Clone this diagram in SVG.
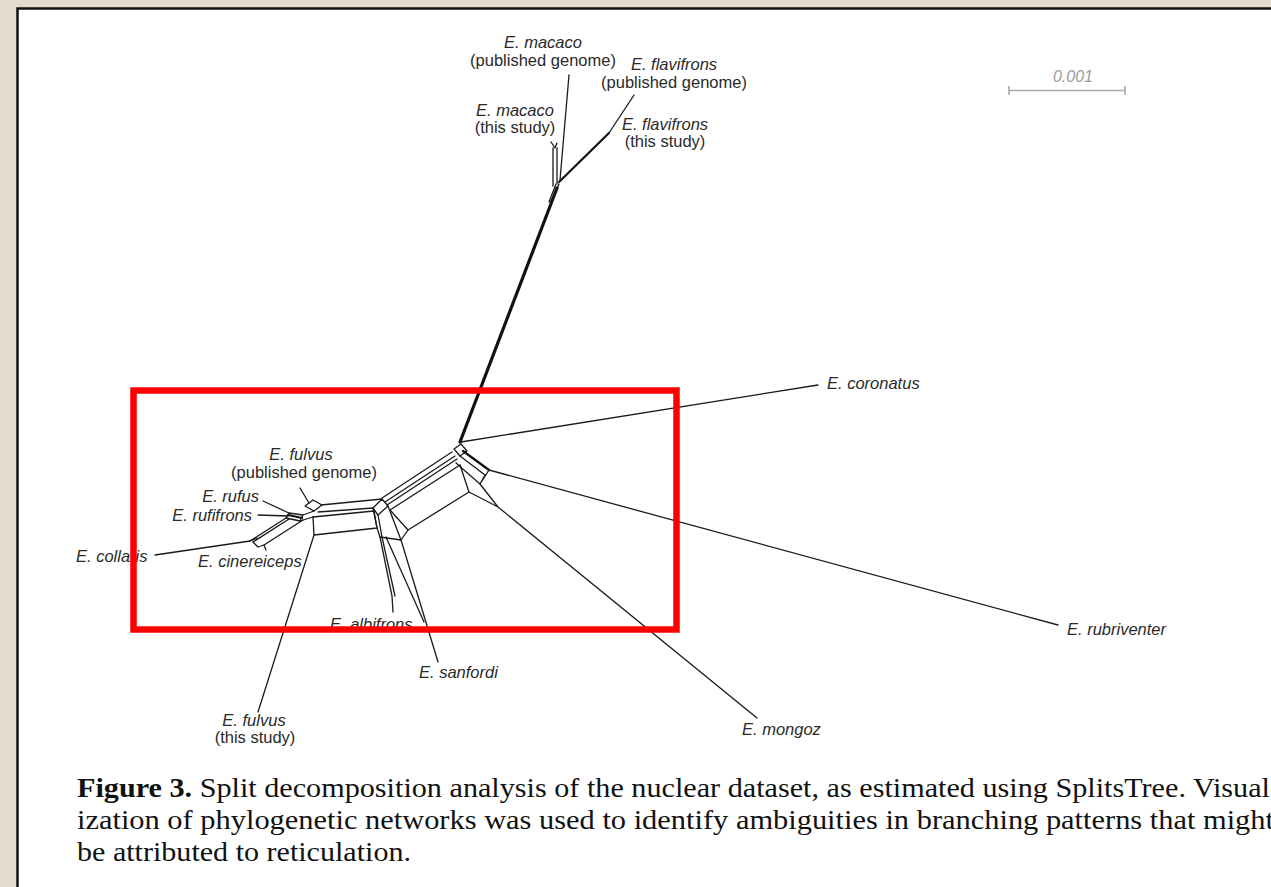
<svg xmlns="http://www.w3.org/2000/svg" width="1271" height="887" viewBox="0 0 1271 887">
<defs>
<style>
.bg{fill:#e5dccd}
.panel{fill:#ffffff;stroke:#111;stroke-width:2.5}
.e{fill:none;stroke:#1a1a1a;stroke-width:1.3;stroke-linejoin:round;stroke-linecap:round}
.thick{fill:none;stroke:#111;stroke-width:3.2;stroke-linecap:round}
.mid{fill:none;stroke:#111;stroke-width:2.2;stroke-linecap:round}
.lbl{font-family:"Liberation Sans",Arial,sans-serif;font-size:16.5px;fill:#2a2a2a}
.it{font-style:italic}
.scale{fill:none;stroke:#a8a8a8;stroke-width:1.6}
.scaletxt{font-family:"Liberation Sans",Arial,sans-serif;font-size:16px;font-style:italic;fill:#9a9a9a}
.cap{font-family:"Liberation Serif","Times New Roman",serif;font-size:27px;fill:#111}
.hl{fill:none;stroke:#ff0000;stroke-width:6.5}
</style>
</defs>
<rect class="bg" x="0" y="0" width="1271" height="887"/>
<rect class="panel" x="17.5" y="8.5" width="1280" height="900"/>

<g id="connectors">
  <!-- stem to macaco/flavifrons -->
  <path class="thick" d="M557,188 L460,442"/>
  <path class="e" d="M556,184 L549,202 M559,184 L552,202"/>
  <path class="e" d="M560,180 L569,75"/>
  <path class="e" d="M553,186 L553,148 M557,184 L557,148 M551,142 L555,148 L557,143"/>
  <path class="mid" d="M559,182 L609,133"/>
  <path class="e" d="M609,133 L634,95"/>
  <!-- coronatus -->
  <path class="e" d="M461,442 L818,385"/>
  <!-- hub box -->
  <path class="e" d="M454,449 L461,444 L467,451 L460,456 Z"/>
  <!-- rubriventer parallelogram -->
  <path class="mid" d="M463,451 L489,470"/>
  <path class="e" d="M460,456 L485,475 M489,470 L480,484 L456,463 M485,475 L480,484"/>
  <path class="e" d="M489,470 L1058,625"/>
  <!-- mongoz -->
  <path class="e" d="M480,484 L498,507 M469,492 L498,507 L757,718"/>
  <!-- upper band hub -> left junction -->
  <path class="e" d="M452,452 L382,498"/>
  <path class="e" d="M455,456 L385,502"/>
  <path class="e" d="M457,459 L387,505"/>
  <path class="e" d="M460,465 L390,510"/>
  <!-- lower parallelogram -->
  <path class="e" d="M460,465 L469,492 L408,530 L390,510"/>
  <!-- left junction box -->
  <path class="e" d="M373,508 L382,499 L388,506 L378,515 Z"/>
  <!-- albifrons / sanfordi column -->
  <path class="e" d="M373,508 L377,528 L380,537 L392,596 L393,612"/>
  <path class="e" d="M378,515 L382,537 L395,596"/>
  <path class="e" d="M388,506 L401,540 L408,530"/>
  <path class="e" d="M380,537 L401,540"/>
  <path class="e" d="M401,540 L438,662"/>
  <path class="e" d="M386,537 L424,622"/>
  <!-- horizontal band to fulvus published -->
  <path class="e" d="M321,505 L382,499"/>
  <path class="e" d="M318,512 L373,508"/>
  <path class="e" d="M313,517 L374,511"/>
  <path class="e" d="M313,517 L314,535 L377,528 L374,511"/>
  <!-- fulvus published box -->
  <path class="e" d="M305,506 L313,500 L322,505 L314,511 Z"/>
  <path class="e" d="M300,488 L309,503"/>
  <!-- rufus / rufifrons -->
  <path class="e" d="M289,513 L303,515 L300,521 L286,518 Z"/>
  <path class="mid" d="M288,515 L302,518"/>
  <path class="e" d="M303,515 L314,511 M300,521 L313,517"/>
  <path class="e" d="M263,501 L291,514"/>
  <path class="e" d="M258,515 L288,516"/>
  <!-- collaris band -->
  <path class="e" d="M286,518 L250,541"/>
  <path class="e" d="M289,519 L253,542"/>
  <path class="e" d="M303,520 L264,545"/>
  <path class="e" d="M250,541 L257,538 M253,542 L258,547 L264,545 M264,545 L266,550"/>
  <path class="e" d="M250,541 L155,555"/>
  <!-- fulvus this study -->
  <path class="e" d="M314,535 L258,712"/>
</g>

<g id="n-macaco-pub"><text class="lbl" text-anchor="middle"><tspan class="it" x="543" y="48">E. macaco</tspan><tspan x="543" y="66">(published genome)</tspan></text></g>
<g id="n-flavifrons-pub"><text class="lbl" text-anchor="middle"><tspan class="it" x="674" y="70">E. flavifrons</tspan><tspan x="674" y="88">(published genome)</tspan></text></g>
<g id="n-macaco-this"><text class="lbl" text-anchor="middle"><tspan class="it" x="515" y="116">E. macaco</tspan><tspan x="515" y="133">(this study)</tspan></text></g>
<g id="n-flavifrons-this"><text class="lbl" text-anchor="middle"><tspan class="it" x="665" y="130">E. flavifrons</tspan><tspan x="665" y="147">(this study)</tspan></text></g>
<g id="n-coronatus"><text class="lbl it" x="827" y="389">E. coronatus</text></g>
<g id="n-rubriventer"><text class="lbl it" x="1067" y="635">E. rubriventer</text></g>
<g id="n-mongoz"><text class="lbl it" x="742" y="735">E. mongoz</text></g>
<g id="n-sanfordi"><text class="lbl it" x="419" y="678">E. sanfordi</text></g>
<g id="n-fulvus-this"><text class="lbl" text-anchor="middle"><tspan class="it" x="254" y="726">E. fulvus</tspan><tspan x="255" y="743">(this study)</tspan></text></g>
<g id="n-albifrons"><text class="lbl it" x="330" y="630">E. albifrons</text></g>
<g id="n-collaris"><text class="lbl it" x="76" y="562">E. collaris</text></g>
<g id="n-cinereiceps"><text class="lbl it" x="198" y="567">E. cinereiceps</text></g>
<g id="n-rufus"><text class="lbl it" x="259" y="502" text-anchor="end">E. rufus</text></g>
<g id="n-rufifrons"><text class="lbl it" x="252" y="521" text-anchor="end">E. rufifrons</text></g>
<g id="n-fulvus-pub"><text class="lbl" text-anchor="middle"><tspan class="it" x="301" y="460">E. fulvus</tspan><tspan x="304" y="478">(published genome)</tspan></text></g>

<g id="scalebar">
  <path class="scale" d="M1009,90.5 L1125,90.5 M1009,86 L1009,95 M1125,86 L1125,95"/>
  <text class="scaletxt" x="1073" y="82" text-anchor="middle">0.001</text>
</g>

<rect class="hl" x="133.5" y="390.5" width="543" height="239"/>

<g id="caption">
  <text class="cap" x="77" y="797" textLength="1203" lengthAdjust="spacingAndGlyphs"><tspan font-weight="bold">Figure 3.</tspan> Split decomposition analysis of the nuclear dataset, as estimated using SplitsTree. Visual-</text>
  <text class="cap" x="77" y="829" textLength="1197" lengthAdjust="spacingAndGlyphs">ization of phylogenetic networks was used to identify ambiguities in branching patterns that might</text>
  <text class="cap" x="77" y="861" textLength="334" lengthAdjust="spacingAndGlyphs">be attributed to reticulation.</text>
</g>
</svg>
